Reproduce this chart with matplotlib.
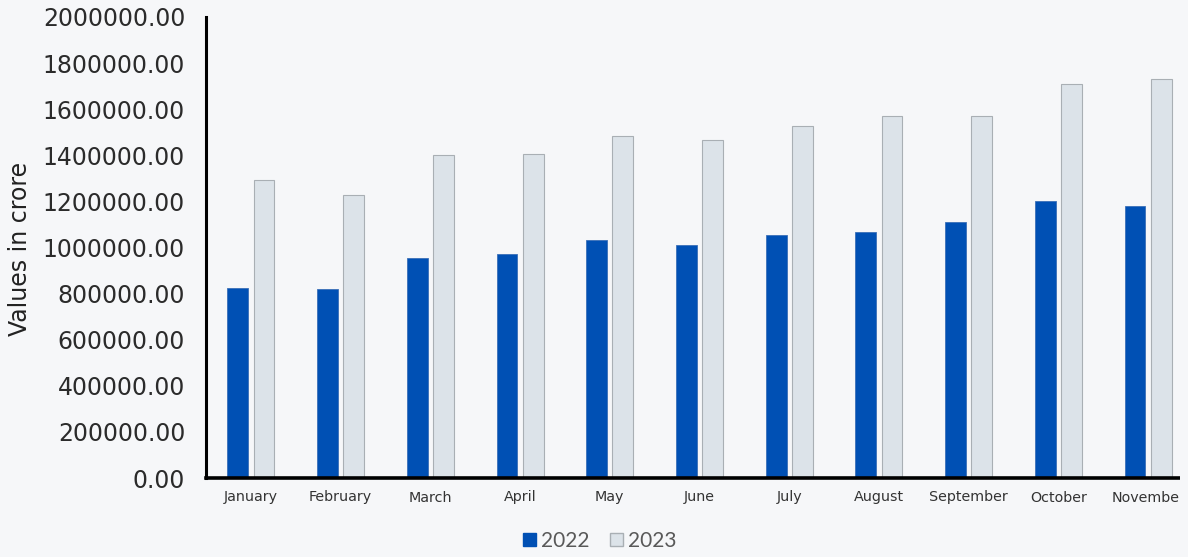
import matplotlib
matplotlib.use("Agg")
import matplotlib.pyplot as plt
import numpy as np
from matplotlib.patches import Patch, Rectangle

months = ["January", "February", "March", "April", "May", "June",
          "July", "August", "September", "October", "November"]
vals_2022 = [824000, 820000, 954000, 972000, 1032000, 1011000,
             1054000, 1067000, 1110000, 1203000, 1180000]
vals_2023 = [1293000, 1228000, 1401000, 1405000, 1484000, 1466000,
             1527000, 1571000, 1571000, 1708000, 1730000]
series = ["2022", "2023"]

bg = "#F6F7F9"
blue = "#0050B4"
grey = "#DCE3E9"
grey_edge = "#A9AFB4"

fig = plt.figure(figsize=(11.88, 5.57), dpi=100, facecolor=bg)
ax = fig.add_axes([206/1188, 1-478/557, (1193-206)/1188, (478-17)/557])
ax.set_facecolor(bg)

x = np.arange(len(months))
w = 0.232
gap = 0.06
ax.bar(x - (w+gap)/2, vals_2022, w, color=blue, edgecolor="#3a6fb8", linewidth=0.6)
ax.bar(x + (w+gap)/2, vals_2023, w, color=grey, edgecolor=grey_edge, linewidth=0.8)

ax.set_xlim(-0.5, len(months) - 0.5)
ax.set_ylim(0, 2000000)
ax.set_yticks(np.arange(0, 2000001, 200000))
ax.set_yticklabels(["%.2f" % v for v in np.arange(0, 2000001, 200000)])
ax.set_xticks(x)
ax.set_xticklabels(months)

for s in ["top", "right"]:
    ax.spines[s].set_visible(False)
ax.spines["left"].set_linewidth(2.2)
ax.spines["bottom"].set_linewidth(2.6)
ax.spines["left"].set_color("black")
ax.spines["bottom"].set_color("black")

ax.tick_params(axis="y", length=0, pad=15, labelsize=17, labelcolor="#2b2b2b")
ax.tick_params(axis="x", length=0, pad=9, labelsize=10.3, labelcolor="#333333")

fig.text(20/1188, 1-249/557, "Values in crore", rotation=90, ha="center", va="center",
         fontsize=17, color="#222222")

handles = [Patch(facecolor=blue, edgecolor=blue),
           Patch(facecolor=grey, edgecolor=grey_edge)]
fig.legend(handles, series, loc="center", bbox_to_anchor=(600/1188, 1-541/557),
           ncol=2, frameon=False, handlelength=0.6, handleheight=0.6,
           handletextpad=0.25, columnspacing=1.0,
           prop={"family": "Lato", "size": 15}, labelcolor="#595959")

# chart area is cut off at the right edge in the original
fig.patches.append(Rectangle((1180/1188, 0), 8/1188, 1, transform=fig.transFigure,
                             facecolor=bg, edgecolor="none", zorder=10))

fig.savefig("out.png", dpi=100, facecolor=bg)
